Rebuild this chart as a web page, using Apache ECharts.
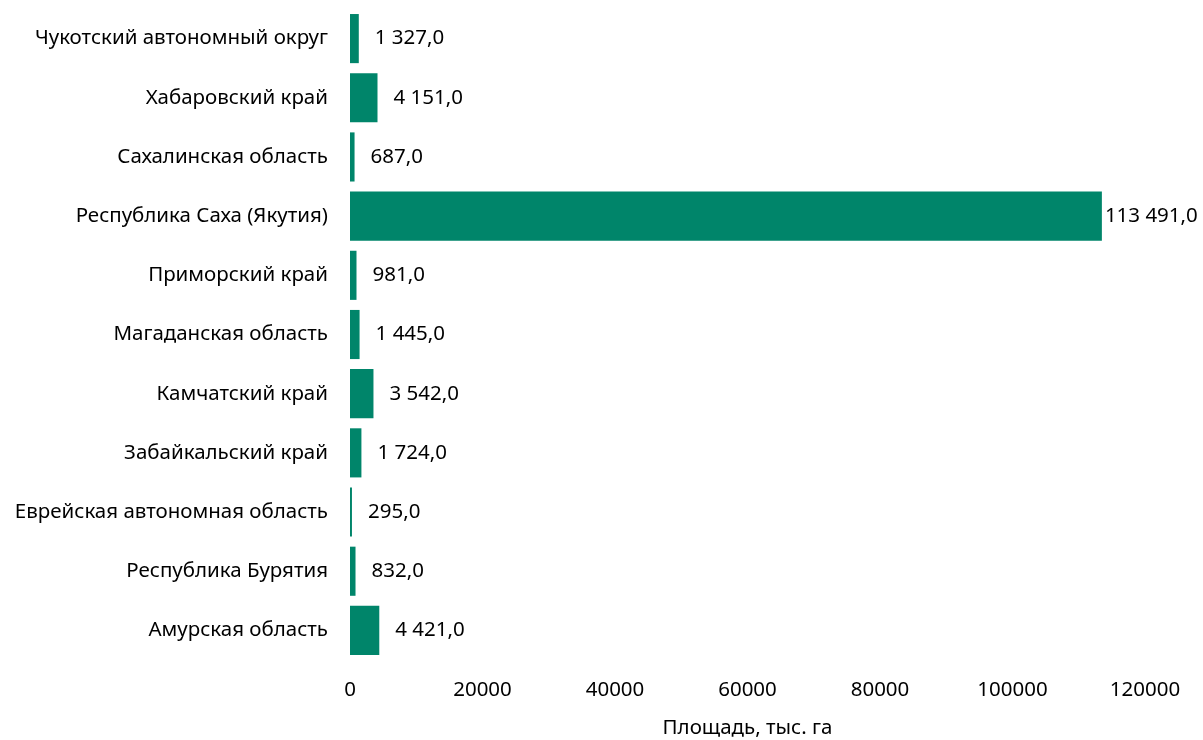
<!DOCTYPE html>
<html><head><meta charset="utf-8">
<script src="https://cdn.jsdelivr.net/npm/echarts@6/dist/echarts.min.js"></script>
<style>html,body{margin:0;padding:0;background:#fff}#c{width:1203px;height:740px}</style>
</head><body><div id="c"></div>
<script>
var categories = ["Амурская область","Республика Бурятия","Еврейская автономная область","Забайкальский край","Камчатский край","Магаданская область","Приморский край","Республика Саха (Якутия)","Сахалинская область","Хабаровский край","Чукотский автономный округ"];
var values = [4421, 832, 295, 1724, 3542, 1445, 981, 113491, 687, 4151, 1327];
var xTicks = [0, 20000, 40000, 60000, 80000, 100000, 120000];
var axisTitle = "Площадь, тыс. га";

function fmt(v){
  var s = Math.round(v).toString().replace(/\B(?=(\d{3})+(?!\d))/g, "\u00a0");
  return s + ",0";
}
var FONT = "Noto Sans";
var FS = 20.5;
var chart = echarts.init(document.getElementById('c'), null, {renderer:'canvas'});
chart.setOption({
  animation:false,
  grid:{left:350, right:58, top:9, bottom:80, containLabel:false, outerBoundsMode:'none'},
  xAxis:{type:'value', min:xTicks[0], max:xTicks[xTicks.length-1], interval:20000,
    splitLine:{show:false}, axisLine:{show:false}, axisTick:{show:false},
    axisLabel:{color:'#000', fontFamily:FONT, fontSize:FS, margin:20,
      formatter:function(v){return String(v);}},
    name:axisTitle, nameLocation:'middle', nameGap:58,
    nameTextStyle:{color:'#000', fontFamily:FONT, fontSize:FS}},
  yAxis:{type:'category', data:categories, axisLine:{show:false}, axisTick:{show:false},
    axisLabel:{color:'#000', fontFamily:FONT, fontSize:FS, margin:22}},
  series:[{type:'bar', barCategoryGap:'17%',
    data:values.map(function(v){
      return v > 100000 ? {value:v, label:{distance:3}} : v;
    }),
    itemStyle:{color:'#00856A'},
    label:{show:true, position:'right', distance:16, color:'#000', fontFamily:FONT, fontSize:FS,
      formatter:function(p){return fmt(p.value);}}
  }]
});
</script></body></html>
